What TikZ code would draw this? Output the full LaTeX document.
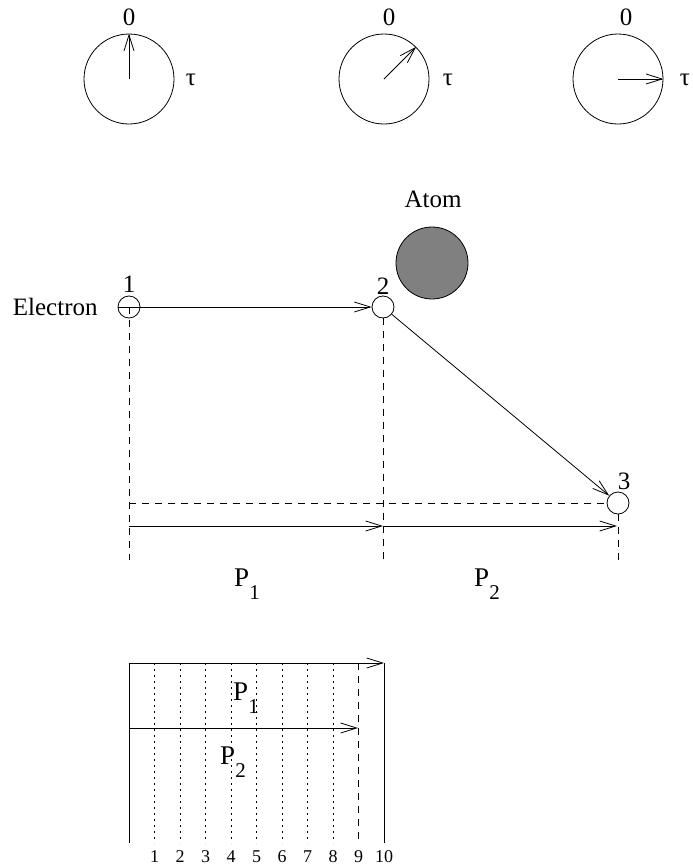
\documentclass[tikz,border=0pt]{standalone}
\usepackage{fontspec}
\setmainfont{Liberation Serif}
\usetikzlibrary{arrows.meta}
\definecolor{atomgray}{RGB}{128,128,128}
\newcommand{\psub}[2]{#1\raisebox{-0.5em}{\fontsize{21}{23}\selectfont #2}}
\begin{document}
\begin{tikzpicture}[x=1pt,y=-1pt, line width=0.8pt,
  arr/.style={-{Straight Barb[length=16pt,width=10pt,line width=0.8pt]}},
  clock/.style={draw, circle, minimum size=90pt, inner sep=0pt},
  dot/.style={draw, circle, minimum size=22pt, inner sep=0pt},
  lbl/.style={font=\fontsize{25}{27}\selectfont, inner sep=0pt},
  plbl/.style={font=\fontsize{27}{29}\selectfont, inner sep=0pt},
  num/.style={font=\fontsize{18}{20}\selectfont, inner sep=0pt},
  dsh/.style={dash pattern=on 7pt off 6pt},
  dts/.style={dash pattern=on 2pt off 4pt}]
\useasboundingbox (0,0) rectangle (693,868);

% clocks
\node[clock] (c1) at (129,79) {};
\node[clock] (c2) at (384,79) {};
\node[clock] (c3) at (618,79) {};
\node[lbl] (z1) at (129,17) {0};
\node[lbl] (z2) at (389,17) {0};
\node[lbl] (z3) at (626,17) {0};
\node[lbl] (t1) at (191,80) {τ};
\node[lbl] (t2) at (448,80) {τ};
\node[lbl] (t3) at (685,80) {τ};
\draw[arr] (c1.center) -- (c1.north);
\draw[arr] (c2.center) -- (c2.45);
\draw[arr] (c3.center) -- (c3.east);

% atom
\node[lbl] (atomlbl) at (433,199) {Atom};
\node[draw, circle, fill=atomgray, minimum size=72pt, inner sep=0pt] (atom) at (432,263) {};

% electron path
\node[dot] (e1) at (129,307) {};
\node[dot] (e2) at (383,307) {};
\node[dot] (e3) at (618,503) {};
\node[lbl] (n1) at (129,284) {1};
\node[lbl] (n2) at (383,286) {2};
\node[lbl] (n3) at (624,481) {3};
\node[lbl, anchor=east] (elec) at (98,307) {Electron};
\draw[arr] (e1.west) -- (e2.west);
\draw[arr] (e2) -- (e3);

\coordinate (b1) at (129,560);
\coordinate (b2) at (383,560);
\coordinate (b3) at (618,560);
\coordinate (h1) at (129,503.5);
\coordinate (h2) at (607,503.5);
\coordinate (s1) at (129,526);
\coordinate (s2) at (383,526);
\coordinate (s3) at (617,526);
\draw[dsh] (e1.center) -- (b1);
\draw[dsh] (e2.south) -- (b2);
\draw[dsh] (e3.south) -- (b3);
\draw[dsh] (h1) -- (h2);
\draw[arr] (s1) -- (s2);
\draw[arr] (s2) -- (s3);
\node[plbl] (p1) at (247,584) {\psub{P}{1}};
\node[plbl] (p2) at (487,584) {\psub{P}{2}};

% chart
\coordinate (tl) at (129,663);
\coordinate (tr) at (384,663);
\coordinate (bl) at (129,843);
\coordinate (br) at (384,843);
\coordinate (ml) at (129,728);
\coordinate (mr) at (358,728);
\coordinate (nt) at (358,663);
\coordinate (nb) at (358,843);
\draw (bl) -- (tl);
\draw[arr] (tl) -- (tr);
\draw (tr) -- (br);
\draw[arr] (ml) -- (mr);
\draw[dsh] (nt) -- (nb);
\foreach \k in {1,...,8} {
  \coordinate (dt\k) at (129+25.5*\k,663);
  \coordinate (db\k) at (129+25.5*\k,843);
  \draw[dts] (dt\k) -- (db\k);
}
\foreach \k in {1,...,10} {
  \node[num] (tick\k) at (129+25.5*\k,857) {\k};
}
\node[plbl] (cp1) at (246,698) {\psub{P}{1}};
\node[plbl] (cp2) at (233,762) {\psub{P}{2}};
\end{tikzpicture}
\end{document}
